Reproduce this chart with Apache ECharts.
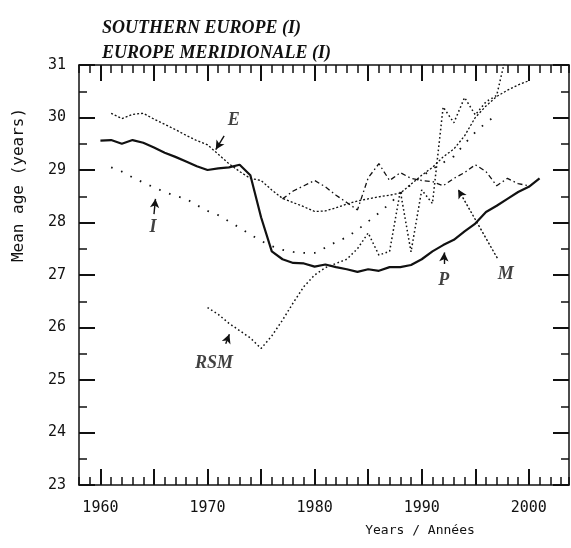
<!DOCTYPE html>
<html><head><meta charset="utf-8">
<script src="https://cdn.jsdelivr.net/npm/echarts@6/dist/echarts.min.js"></script>
<style>html,body{margin:0;padding:0;background:#fff}#c{width:571px;height:548px}</style>
</head><body><div id="c"></div>
<script>
// ---- data ----
const yearsE = [1961,1962,1963,1964,1965,1966,1967,1968,1969,1970,1971,1972,1973,1974,1975,1976,1977,1978,1979,1980,1981,1982,1983,1984,1985,1986,1987,1988,1989,1990,1991,1992,1993,1994,1995,1996,1997,1998,1999,2000];
const valuesE = [30.08,29.98,30.06,30.08,29.97,29.87,29.77,29.66,29.56,29.48,29.30,29.12,28.97,28.84,28.80,28.62,28.46,28.38,28.30,28.21,28.22,28.28,28.35,28.41,28.45,28.49,28.52,28.56,28.73,28.90,29.05,29.25,29.40,29.65,30.00,30.22,30.40,30.52,30.62,30.70];

const yearsP = [1960,1961,1962,1963,1964,1965,1966,1967,1968,1969,1970,1971,1972,1973,1974,1975,1976,1977,1978,1979,1980,1981,1982,1983,1984,1985,1986,1987,1988,1989,1990,1991,1992,1993,1994,1995,1996,1997,1998,1999,2000,2001];
const valuesP = [29.56,29.57,29.50,29.57,29.52,29.43,29.33,29.25,29.16,29.07,29.00,29.03,29.05,29.10,28.90,28.10,27.45,27.30,27.23,27.22,27.16,27.20,27.15,27.11,27.06,27.11,27.08,27.15,27.15,27.19,27.30,27.45,27.57,27.67,27.83,27.98,28.20,28.32,28.45,28.58,28.68,28.84];

const yearsI = [1961,1962,1963,1964,1965,1966,1967,1968,1969,1970,1971,1972,1973,1974,1975,1976,1977,1978,1979,1980,1981,1982,1983,1984,1985,1986,1987,1988,1989,1990,1991,1992,1993,1994,1995,1996,1997];
const valuesI = [29.05,28.97,28.86,28.76,28.67,28.58,28.51,28.45,28.33,28.22,28.14,28.02,27.90,27.77,27.65,27.55,27.48,27.44,27.42,27.42,27.52,27.63,27.72,27.86,28.02,28.18,28.36,28.55,28.72,28.88,29.02,29.14,29.26,29.50,29.72,29.90,30.05];

const yearsM = [1977,1978,1979,1980,1981,1982,1983,1984,1985,1986,1987,1988,1989,1990,1991,1992,1993,1994,1995,1996,1997,1998,1999,2000];
const valuesM = [28.45,28.60,28.70,28.80,28.68,28.52,28.38,28.24,28.85,29.12,28.80,28.95,28.84,28.80,28.78,28.70,28.84,28.95,29.10,28.97,28.70,28.84,28.74,28.70];

const yearsRSM = [1970,1971,1972,1973,1974,1975,1976,1977,1978,1979,1980,1981,1982,1983,1984,1985,1986,1987,1988,1989,1990,1991,1992,1993,1994,1995,1996,1997,1998];
const valuesRSM = [26.38,26.25,26.08,25.94,25.80,25.60,25.84,26.14,26.47,26.78,27.00,27.14,27.22,27.30,27.50,27.80,27.38,27.45,28.60,27.44,28.62,28.36,30.20,29.90,30.38,30.05,30.30,30.42,31.30];

const xLabelValues = [1960,1970,1980,1990,2000];
const xMajorTicks = [1960,1965,1970,1975,1980,1985,1990,1995,2000];

// annotation labels: [name, year, value]
const annoLabels = [['E',1972.46,29.95],['I',1964.9,27.91],['RSM',1970.6,25.32],['P',1992.06,26.89],['M',1997.84,27.02]];
// annotation arrows: [fromYear, fromValue, toYear, toValue, dotted]
const annoArrows = [[1971.55,29.65,1970.77,29.39,0],[1965.0,28.16,1965.14,28.45,0],[1971.7,25.69,1972.04,25.87,0],[1992.06,27.21,1992.1,27.43,0],[1997.06,27.32,1993.4,28.63,1]];

// ---- chart ----
const pair = (xs, ys) => xs.map((x, i) => [x, ys[i]]);
const INK = '#111';
const MONO = 'DejaVu Sans Mono';
const X_MIN = 1958, X_MAX = 2003.75;
const chart = echarts.init(document.getElementById('c'), null, {renderer: 'canvas'});

function xAx(pos, major) {
  return {
    type: 'value', min: X_MIN, max: X_MAX, position: pos,
    interval: major ? undefined : 1,
    axisLine: {show: major, onZero: false, lineStyle: {color: INK, width: 1.5}},
    axisTick: major ? {show: true, inside: true, length: 16, customValues: xMajorTicks, lineStyle: {color: INK, width: 2}}
                    : {show: true, inside: true, length: 8, lineStyle: {color: INK, width: 1.5}},
    axisLabel: (major && pos === 'bottom') ? {show: true, customValues: xLabelValues, fontFamily: MONO, fontSize: 15, color: INK, margin: 16, formatter: v => String(v)} : {show: false},
    splitLine: {show: false}
  };
}
function yAx(pos) {
  return {
    type: 'value', min: 23, max: 31, interval: 1, position: pos,
    axisLine: {show: true, onZero: false, lineStyle: {color: INK, width: 1.5}},
    axisTick: {show: true, inside: true, length: 16, lineStyle: {color: INK, width: 2}},
    minorTick: {show: true, splitNumber: 2, length: 8, lineStyle: {color: INK, width: 1.5}},
    axisLabel: pos === 'left' ? {show: true, fontFamily: MONO, fontSize: 15, color: INK, margin: 13} : {show: false},
    splitLine: {show: false}, minorSplitLine: {show: false}
  };
}
function lineSeries(name, data, type, width) {
  return {
    name, type: 'line', data, xAxisIndex: 0, yAxisIndex: 0,
    showSymbol: false, symbol: 'none', clip: true, z: 3,
    lineStyle: {color: INK, width, type, cap: 'butt'}
  };
}

chart.setOption({
  animation: false,
  backgroundColor: '#fff',
  title: {
    text: 'SOUTHERN EUROPE (I)\nEUROPE MERIDIONALE (I)',
    left: 97, top: 11,
    textStyle: {fontFamily: 'Liberation Serif', fontStyle: 'italic', fontWeight: 'bold', fontSize: 18, lineHeight: 25, color: INK}
  },
  grid: {left: 79, right: 2, top: 65, bottom: 63, containLabel: false, outerBoundsMode: 'none'},
  xAxis: [xAx('bottom', true), xAx('bottom', false), xAx('top', true), xAx('top', false)],
  yAxis: [yAx('left'), yAx('right')],
  series: [
    lineSeries('E', pair(yearsE, valuesE), [2, 2], 1.3),
    lineSeries('P', pair(yearsP, valuesP), 'solid', 2.2),
    lineSeries('I', pair(yearsI, valuesI), [1.6, 9], 1.8),
    lineSeries('M', pair(yearsM, valuesM), [5, 3, 1.5, 3], 1.3),
    lineSeries('RSM', pair(yearsRSM, valuesRSM), [1.6, 2.6], 1.5),
    {
      name: 'labels', type: 'scatter', xAxisIndex: 0, yAxisIndex: 0, z: 5,
      symbol: 'circle', symbolSize: 1, itemStyle: {color: 'rgba(0,0,0,0)'},
      data: annoLabels.map(a => ({name: a[0], value: [a[1], a[2]]})),
      label: {show: true, position: 'inside', formatter: '{b}', fontFamily: 'Liberation Serif', fontStyle: 'italic', fontWeight: 'bold', fontSize: 18, color: INK},
      markLine: {
        silent: true, symbol: ['none', 'arrow'], symbolSize: [7, 9],
        label: {show: false},
        lineStyle: {color: INK, width: 1.4, type: 'solid'},
        data: annoArrows.map(a => [
          {coord: [a[0], a[1]], lineStyle: {type: a[4] ? [2, 2] : 'solid'}},
          {coord: [a[2], a[3]]}
        ])
      }
    }
  ],
  graphic: [
    {type: 'text', x: 19, y: 185, rotation: Math.PI / 2,
     style: {text: 'Mean age (years)', align: 'center', verticalAlign: 'middle', font: '16px "DejaVu Sans Mono"', fill: INK}},
    {type: 'text', x: 420, y: 531,
     style: {text: 'Years / Années', align: 'center', verticalAlign: 'middle', font: '13px "DejaVu Sans Mono"', fill: INK}}
  ]
});
</script></body></html>
